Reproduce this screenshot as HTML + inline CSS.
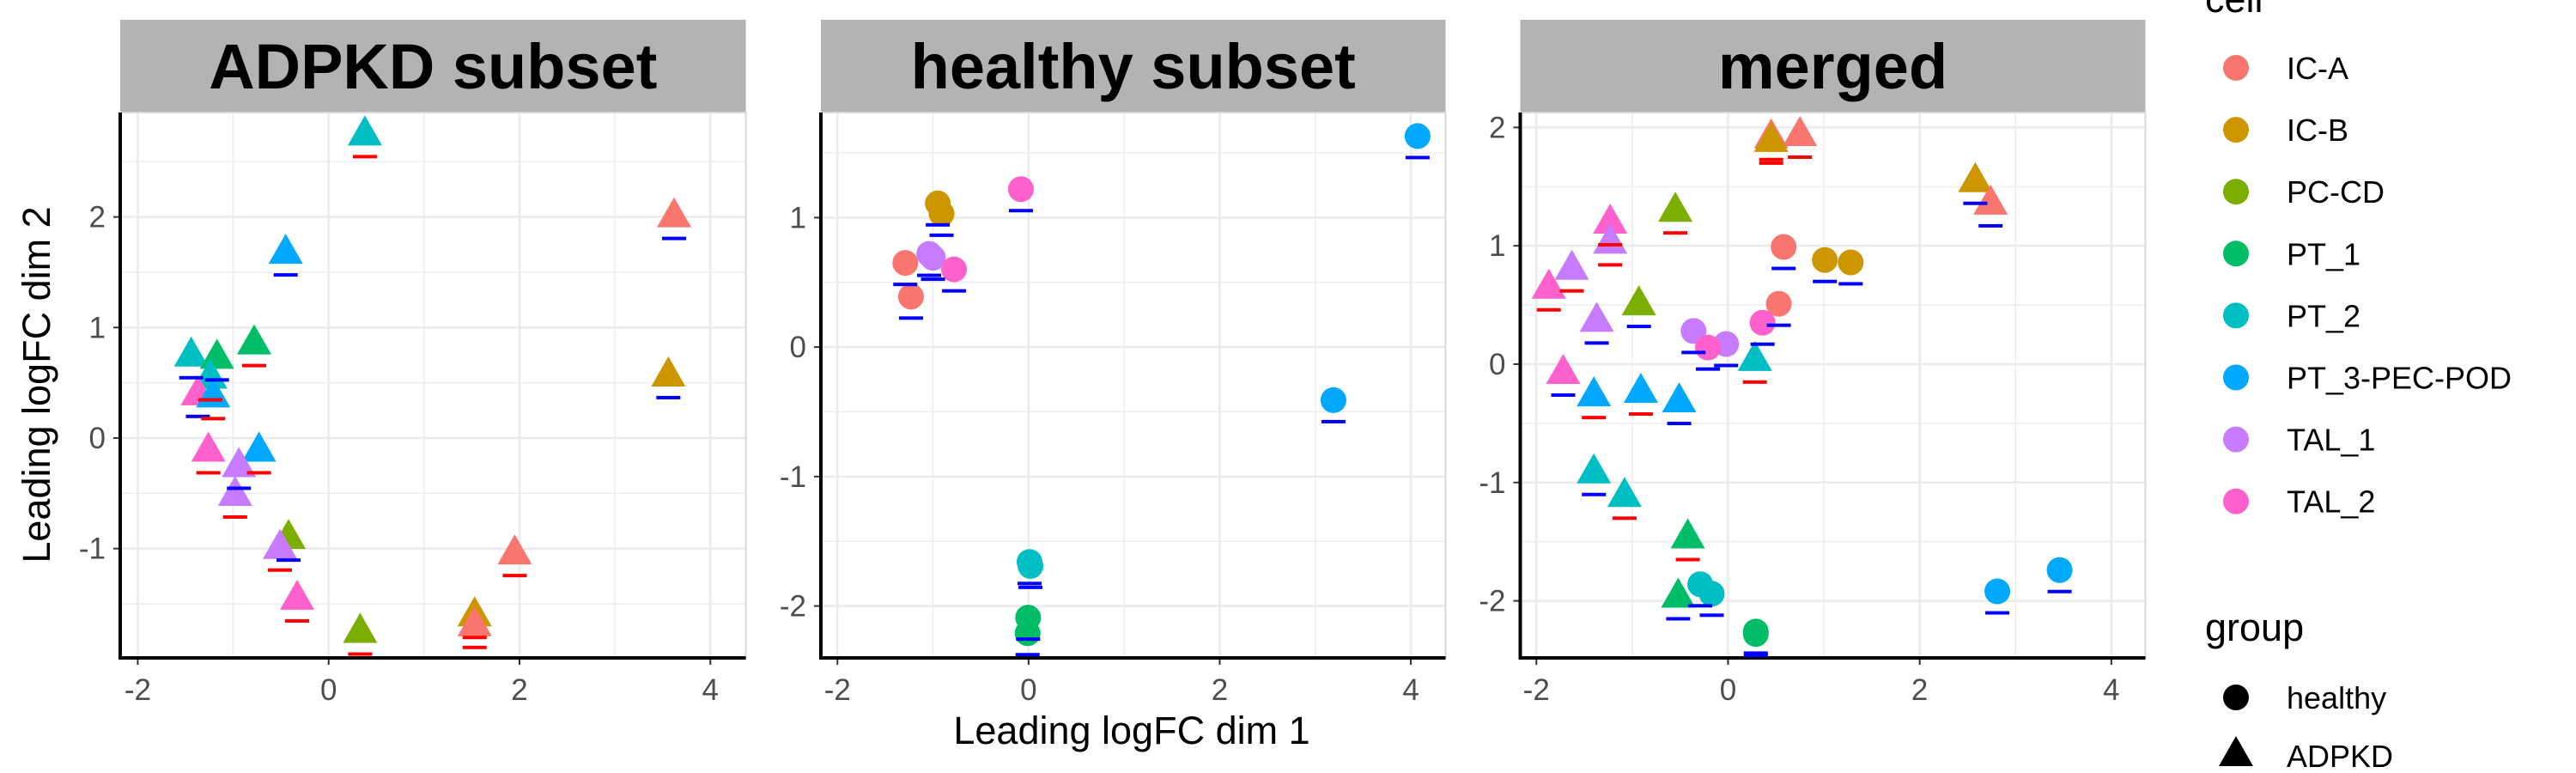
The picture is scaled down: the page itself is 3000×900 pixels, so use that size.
<!DOCTYPE html>
<html><head><meta charset="utf-8"><style>
html,body{margin:0;padding:0;background:#fff;}
svg{display:block;font-family:"Liberation Sans",sans-serif;}
</style></head><body>
<svg id="chart" width="3000" height="900" viewBox="0 0 3000 900" xmlns="http://www.w3.org/2000/svg">
<g id="panels"></g>
<text x="1318" y="866" font-size="45" text-anchor="middle" fill="#000">Leading logFC dim 1</text>
<text x="0" y="0" font-size="45" text-anchor="middle" fill="#000" transform="translate(58,448) rotate(-90)">Leading logFC dim 2</text>
<g id="legend"></g>
</svg>
<script>
const cellNames = ["IC-A","IC-B","PC-CD","PT_1","PT_2","PT_3-PEC-POD","TAL_1","TAL_2"];
const cellColors = ["#F8766D","#CD9600","#7CAE00","#00BE67","#00BFC4","#00A9FF","#C77CFF","#FF61CC"];
const panelTitles = ["ADPKD subset","healthy subset","merged"];
const xTicks = [-2,0,2,4];

// ADPKD subset (triangles)
const adpkdX = [0.38,3.62,-0.45,3.56,-1.44,-1.17,-0.78,-1.24,-1.37,-1.21,-1.26,-0.73,-0.94,-0.98,-0.42,-0.51,-0.33,0.33,1.95,1.53,1.53];
const adpkdY = [2.74,2.00,1.67,0.56,0.74,0.72,0.85,0.54,0.39,0.37,-0.12,-0.12,-0.26,-0.52,-0.91,-1.00,-1.46,-1.76,-1.05,-1.61,-1.70];
const adpkdCell = [4,0,5,1,4,3,3,4,7,5,7,5,6,6,2,6,7,2,0,1,0];
const adpkdDash = ["r","b","b","b","b","b","r","r","b","r","r","r","b","r","b","r","r","r","r","r","r"];
const adpkdYTicks = [-1,0,1,2];

// healthy subset (circles)
const healthyX = [4.07,3.19,-0.08,-0.95,-0.91,-1.29,-1.23,-1.04,-1.00,-0.78,0.01,0.02,-0.005,-0.01];
const healthyY = [1.63,-0.41,1.22,1.11,1.03,0.65,0.39,0.72,0.69,0.60,-1.66,-1.69,-2.09,-2.21];
const healthyCell = [5,5,7,1,1,0,0,6,6,7,4,4,3,3];
const healthyDash = ["b","b","b","b","b","b","b","b","b","b","b","b","b","b"];
const healthyYTicks = [-2,-1,0,1];

// merged (circles + triangles)
const mergedX = [0.75,0.45,0.45,2.58,2.74,-0.55,-1.23,-1.23,-1.63,-1.87,-0.93,-1.37,0.28,-1.72,-1.40,-0.91,-0.51,-1.40,-1.08,-0.42,-0.52,
                 0.58,1.01,1.28,0.53,0.36,-0.36,-0.02,-0.21,-0.29,-0.17,0.29,0.29,2.81,3.46];
const mergedY = [1.93,1.91,1.88,1.54,1.35,1.29,1.19,1.02,0.80,0.64,0.50,0.36,0.03,-0.08,-0.27,-0.24,-0.32,-0.92,-1.12,-1.47,-1.97,
                 0.99,0.88,0.86,0.51,0.35,0.28,0.17,0.14,-1.86,-1.94,-2.26,-2.28,-1.92,-1.74];
const mergedCell = [0,0,1,1,0,2,7,6,6,7,2,6,4,7,5,5,5,4,4,3,3,
                    0,1,1,0,7,6,6,7,4,4,3,3,5,5];
const mergedGroup = ["A","A","A","A","A","A","A","A","A","A","A","A","A","A","A","A","A","A","A","A","A",
                     "H","H","H","H","H","H","H","H","H","H","H","H","H","H"];
const mergedDash = ["r","r","r","b","b","r","r","r","r","r","b","b","r","b","r","r","b","b","r","r","b",
                    "b","b","b","b","b","b","b","b","b","b","b","b","b","b"];
const mergedYTicks = [-2,-1,0,1,2];

const NS = "http://www.w3.org/2000/svg";
function mk(tag, attrs, parent){
  const e = document.createElementNS(NS, tag);
  for (const k in attrs) e.setAttribute(k, attrs[k]);
  if (parent) parent.appendChild(e);
  return e;
}
const TOP = 131, BOTTOM = 766;
const panels = [
  {left:140, right:868.6, xd:[-2.184,4.372], yd:[-1.989,2.945], X:adpkdX, Y:adpkdY, C:adpkdCell, D:adpkdDash, G:null, yt:adpkdYTicks, name:"adpkd-panel"},
  {left:956, right:1683.5, xd:[-2.173,4.363], yd:[-2.401,1.812], X:healthyX, Y:healthyY, C:healthyCell, D:healthyDash, G:"H", yt:healthyYTicks, name:"healthy-panel"},
  {left:1770.5, right:2498.5, xd:[-2.168,4.355], yd:[-2.482,2.126], X:mergedX, Y:mergedY, C:mergedCell, D:mergedDash, G:mergedGroup, yt:mergedYTicks, name:"merged-panel"}
];
const root = document.getElementById("panels");
panels.forEach((p, pi) => {
  const sx = v => p.left + (v - p.xd[0]) / (p.xd[1] - p.xd[0]) * (p.right - p.left);
  const sy = v => BOTTOM - (v - p.yd[0]) / (p.yd[1] - p.yd[0]) * (BOTTOM - TOP);
  const g = mk("g", {}, root);
  
  
  // strip
  const strip = mk("rect", {x:p.left, y:23, width:p.right-p.left, height:TOP-23, fill:"#b3b3b3"}, g);
  
  
  const st = mk("text", {x:(p.left+p.right)/2, y:103, "font-size":74, "font-weight":"bold", "text-anchor":"middle", fill:"#000"}, g);
  st.textContent = panelTitles[pi];
  
  
  // grid
  const grid = mk("g", {}, g);
  
  
  for (let v = Math.ceil(p.xd[0]*2)/2; v <= p.xd[1]; v += 0.5) {
    const major = Math.abs(v % 2) < 1e-9;
    const minor = Math.abs(Math.abs(v % 2) - 1) < 1e-9;
    if (!major && !minor) continue;
    mk("line", {x1:sx(v), x2:sx(v), y1:TOP, y2:BOTTOM, stroke:"#ebebeb", "stroke-width": major?2.5:1.3}, grid);
  }
  for (let v = Math.ceil(p.yd[0]*2)/2; v <= p.yd[1]; v += 0.5) {
    const major = Math.abs(v - Math.round(v)) < 1e-9;
    mk("line", {x1:p.left, x2:p.right, y1:sy(v), y2:sy(v), stroke:"#ebebeb", "stroke-width": major?2.5:1.3}, grid);
  }
  mk("rect", {x:p.left, y:TOP, width:p.right-p.left, height:BOTTOM-TOP, fill:"none", stroke:"#d9d9d9", "stroke-width":2}, g);
  // axes
  const ax = mk("line", {x1:p.left, x2:p.left, y1:TOP, y2:BOTTOM+2, stroke:"#000", "stroke-width":4}, g);
  
  
  const bx = mk("line", {x1:p.left-2, x2:p.right, y1:BOTTOM, y2:BOTTOM, stroke:"#000", "stroke-width":4}, g);
  
  
  xTicks.forEach(t => {
    mk("line", {x1:sx(t), x2:sx(t), y1:BOTTOM+2, y2:BOTTOM+8, stroke:"#333", "stroke-width":2}, g);
    const tl = mk("text", {x:sx(t), y:815, "font-size":35, "text-anchor":"middle", fill:"#4d4d4d"}, g);
    tl.textContent = String(t);
    
    
  });
  p.yt.forEach(t => {
    mk("line", {x1:p.left-8, x2:p.left-2, y1:sy(t), y2:sy(t), stroke:"#333", "stroke-width":2}, g);
    const tl = mk("text", {x:p.left-17, y:sy(t)+12, "font-size":35, "text-anchor":"end", fill:"#4d4d4d"}, g);
    tl.textContent = String(t);
    
    
  });
  // points
  const pts = mk("g", {}, g);
  
  
  p.X.forEach((xv, i) => {
    const cx = sx(xv), cy = sy(p.Y[i]);
    const grp = p.G === null ? "A" : (typeof p.G === "string" ? p.G : p.G[i]);
    const col = cellColors[p.C[i]];
    let m;
    if (grp === "A") {
      m = mk("polygon", {points:`${cx-20},${cy+12} ${cx+20},${cy+12} ${cx},${cy-23}`, fill:col}, pts);
    } else {
      m = mk("circle", {cx:cx, cy:cy, r:15, fill:col}, pts);
    }
    
    
  });
  p.X.forEach((xv, i) => {
    const cx = sx(xv), cy = sy(p.Y[i]);
    const d = mk("rect", {x:cx-14, y:cy+23, width:28, height:4, fill: p.D[i]==="r" ? "#ff0000" : "#0000ff"}, pts);
    
    
  });
});
// legend
const lg = document.getElementById("legend");
const lt = mk("text", {x:2568, y:14, "font-size":45, fill:"#000"}, lg);
lt.textContent = "cell";


cellNames.forEach((n, i) => {
  const y = 79 + 72.1 * i;
  const c = mk("circle", {cx:2604, cy:y, r:15, fill:cellColors[i]}, lg);
  
  
  const t = mk("text", {x:2663, y:y+13, "font-size":36, fill:"#000"}, lg);
  t.textContent = n;
  
  
});
const gt = mk("text", {x:2568, y:746, "font-size":45, fill:"#000"}, lg);
gt.textContent = "group";


const hc = mk("circle", {cx:2604, cy:812, r:15, fill:"#000"}, lg);


const ht = mk("text", {x:2663, y:825, "font-size":36, fill:"#000"}, lg);
ht.textContent = "healthy";


const at = mk("polygon", {points:"2584,892 2624,892 2604,857", fill:"#000"}, lg);


const atx = mk("text", {x:2663, y:893, "font-size":36, fill:"#000"}, lg);
atx.textContent = "ADPKD";


</script>
</body></html>
